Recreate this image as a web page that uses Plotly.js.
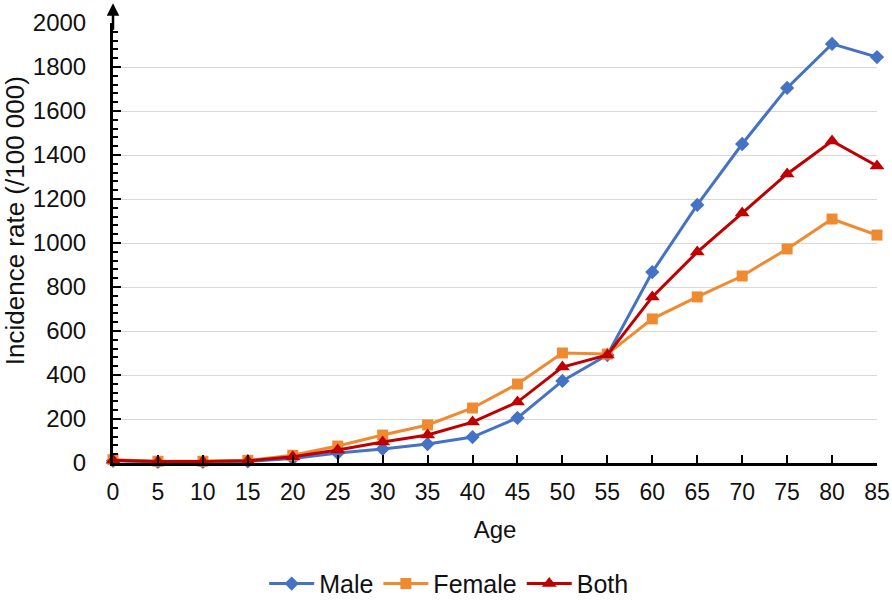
<!DOCTYPE html>
<html>
<head>
<meta charset="utf-8">
<script src="https://cdn.plot.ly/plotly-3.0.1.min.js"></script>
<style>html,body{margin:0;padding:0;background:#fff;}#chart{width:892px;height:600px;}</style>
</head>
<body>
<div id="chart"></div>
<script>
const ages = [0,5,10,15,20,25,30,35,40,45,50,55,60,65,70,75,80,85];
const male = [10,5,5,8,20,45,64,86,118,205,373,491,868,1173,1450,1705,1905,1845];
const female = [15,8,8,12,35,77,127,173,250,359,500,495,655,755,850,973,1109,1036];
const both = [12,7,7,10,28,59,95,127,186,277,436,491,755,959,1136,1314,1464,1350];
const yTicks = [0,200,400,600,800,1000,1200,1400,1600,1800,2000];
const xTicks = ages;

const font = "Liberation Sans, Arial, sans-serif";
function tr(name, y, color, symbol, size) {
  return {x: ages, y: y, name: name, type: 'scatter', mode: 'lines+markers', cliponaxis: false,
    line: {color: color, width: 3}, marker: {symbol: symbol, size: size, color: color}};
}
const data = [
  tr('Male', male, '#4472C4', 'diamond', 11),
  tr('Female', female, '#F08A30', 'square', 11),
  tr('Both', both, '#C00000', 'triangle-up', 13)
];
const layout = {
  width: 892, height: 600,
  margin: {l: 113, r: 15, t: 23, b: 137, autoexpand: false},
  paper_bgcolor: '#fff', plot_bgcolor: '#fff',
  font: {family: font, size: 24, color: '#111'},
  showlegend: true,
  legend: {orientation: 'h', xref: 'container', yref: 'container', x: 0.503, xanchor: 'center',
    y: 0.027, yanchor: 'middle', font: {size: 25, family: font, color: '#111'},
    traceorder: 'normal', itemwidth: 45, tracegroupgap: 0},
  xaxis: {range: [0, 85], tickvals: xTicks, ticktext: xTicks.map(String), automargin: false,
    showgrid: false, zeroline: false, showline: true, linecolor: '#000', linewidth: 3,
    ticks: 'inside', ticklen: 8, tickwidth: 2, tickcolor: '#000',
    tickfont: {size: 23, family: font, color: '#111'}, ticklabelstandoff: 6,
    title: {text: 'Age', font: {size: 24, family: font, color: '#111'}, standoff: 18}},
  yaxis: {range: [0, 2000], tickvals: yTicks, ticktext: yTicks.map(String), automargin: false,
    showgrid: true, gridcolor: '#d9d9d9', gridwidth: 1, zeroline: false,
    showline: true, linecolor: '#000', linewidth: 3,
    ticks: 'inside', ticklen: 8, tickwidth: 2, tickcolor: '#000',
    minor: {dtick: 40, ticks: 'inside', ticklen: 5, tickwidth: 2, tickcolor: '#000', showgrid: false},
    tickfont: {size: 24, family: font, color: '#111'}, ticklabelstandoff: 19},
  annotations: [
    {xref: 'paper', yref: 'paper', x: -0.128, y: 0.55, xanchor: 'center', yanchor: 'middle',
     text: 'Incidence rate (/100 000)',
     textangle: -90, showarrow: false, font: {size: 26, family: font, color: '#111'}},
    {xref: 'paper', yref: 'paper', x: 0, y: 1.045, ax: 0, ay: 28, text: '',
     showarrow: true, arrowhead: 2, arrowsize: 1, arrowwidth: 2.5, arrowcolor: '#000'}
  ]
};
Plotly.newPlot('chart', data, layout, {displayModeBar: false, staticPlot: true});
</script>
</body>
</html>
